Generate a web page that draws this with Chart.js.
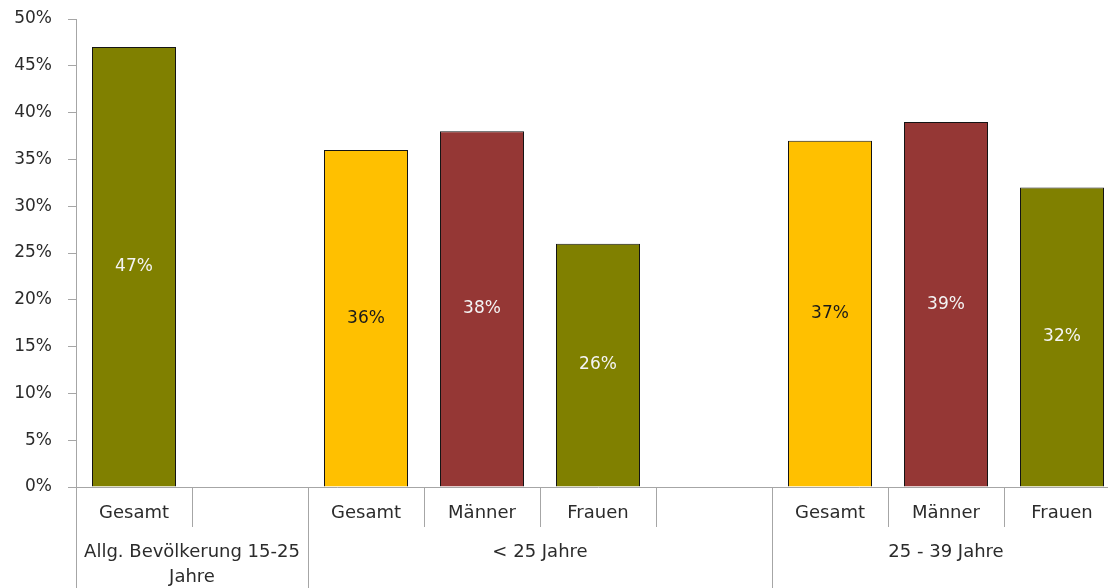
<!DOCTYPE html>
<html>
<head>
<meta charset="utf-8">
<script src="https://cdn.jsdelivr.net/npm/chart.js@4"></script>
<style>
    html, body { margin: 0; padding: 0; background: #fff; overflow: hidden; }
</style>
</head>
<body>
<canvas id="surveyChart" width="1120" height="588"></canvas>
<script>
// Data
const categories = ['Gesamt', '', 'Gesamt', 'Männer', 'Frauen', '', 'Gesamt', 'Männer', 'Frauen'];
const values = [47, null, 36, 38, 26, null, 37, 39, 32];
const barColors = ['#808000', null, '#FFC000', '#953735', '#808000', null, '#FFC000', '#953735', '#808000'];
const valueLabelColors = ['#f4f4f4', null, '#1a1a1a', '#f4f4f4', '#f4f4f4', null, '#1a1a1a', '#f4f4f4', '#f4f4f4'];

// Outer category level: label, centre (in category index units) and borders
const groupLabels = [['Allg. Bevölkerung 15-25', 'Jahre'], '< 25 Jahre', '25 - 39 Jahre'];
const groupCenters = [0.5, 3.5, 7];
const groupBorders = [-0.5, 1.5, 5.5, 8.5];

const yMin = 0;
const yMax = 50;
const yStep = 5;

const axisGray = '#a6a6a6';
const textColor = '#2b2b2b';
const fontFamily = '"DejaVu Sans", sans-serif';

// Draws the value in the middle of each bar
const barValueLabels = {
    id: 'barValueLabels',
    afterDatasetsDraw(chart) {
        const ctx = chart.ctx;
        const meta = chart.getDatasetMeta(0);
        ctx.save();
        ctx.font = '17px ' + fontFamily;
        ctx.textAlign = 'center';
        ctx.textBaseline = 'middle';
        meta.data.forEach((bar, i) => {
            if (values[i] == null) return;
            ctx.fillStyle = valueLabelColors[i];
            ctx.fillText(values[i] + '%', bar.x, (bar.y + bar.base) / 2);
        });
        ctx.restore();
    }
};

new Chart(document.getElementById('surveyChart'), {
    type: 'bar',
    data: {
        labels: categories,
        datasets: [{
            data: values,
            backgroundColor: barColors,
            borderColor: '#141414',
            borderWidth: 1,
            barPercentage: 84 / 116,
            categoryPercentage: 1
        }]
    },
    options: {
        responsive: false,
        animation: false,
        layout: { padding: { top: 19, left: 0, right: 0, bottom: 0 } },
        plugins: {
            legend: { display: false },
            tooltip: { enabled: false }
        },
        scales: {
            y: {
                min: yMin,
                max: yMax,
                afterFit: (scale) => {
                    scale.width = 76;
                    scale.paddingTop = 0;
                    scale.paddingBottom = 0;
                },
                border: { color: axisGray },
                grid: { drawOnChartArea: false, tickLength: 8, color: axisGray },
                ticks: {
                    stepSize: yStep,
                    padding: 16,
                    color: textColor,
                    font: { family: fontFamily, size: 17 },
                    callback: (v) => v + '%'
                }
            },
            x: {
                weight: 0,
                afterFit: (scale) => { scale.height = 40; },
                border: { color: axisGray },
                grid: { offset: true, drawOnChartArea: false, tickLength: 40, color: axisGray },
                ticks: {
                    padding: -24,
                    autoSkip: false,
                    maxRotation: 0,
                    color: textColor,
                    font: { family: fontFamily, size: 18 }
                }
            },
            x2: {
                type: 'linear',
                position: 'bottom',
                weight: 1,
                min: -0.5,
                max: 8.5,
                bounds: 'data',
                offset: false,
                afterFit: (scale) => { scale.height = 61; },
                afterBuildTicks: (scale) => {
                    scale.ticks = groupBorders.concat(groupCenters)
                        .sort((a, b) => a - b)
                        .map(v => ({ value: v }));
                },
                border: { display: false },
                grid: {
                    offset: false,
                    drawOnChartArea: false,
                    tickLength: 70,
                    color: (ctx) => (ctx.tick && groupBorders.includes(ctx.tick.value)) ? axisGray : 'rgba(0,0,0,0)'
                },
                ticks: {
                    padding: -57.6,
                    autoSkip: false,
                    maxRotation: 0,
                    color: textColor,
                    font: { family: fontFamily, size: 18, lineHeight: 1.4 },
                    callback: (value) => {
                        const idx = groupCenters.indexOf(value);
                        return idx >= 0 ? groupLabels[idx] : '';
                    }
                }
            }
        }
    },
    plugins: [barValueLabels]
});
</script>
</body>
</html>
